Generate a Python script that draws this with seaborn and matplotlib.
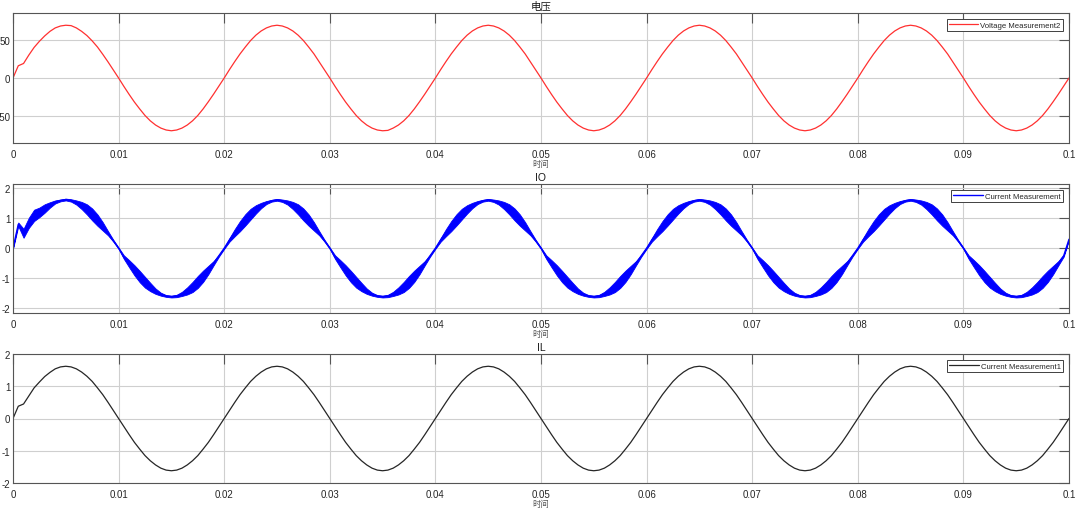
import numpy as np
import matplotlib
matplotlib.use("Agg")
import matplotlib.pyplot as plt
import seaborn as sns

# sample times, 0 .. 0.1 s, step 0.0005 s
t = np.linspace(0, 0.1, 201)

# Voltage Measurement2
voltage = [
    0, 16, 19, 30, 40, 48, 55, 61, 65.5, 68, 69, 68.5, 65.5, 61, 55.5, 48.5, 40.5, 31, 21, 10.5,
    0, -11, -21.5, -31.5, -40.5, -49, -56, -61.5, -65.5, -68, -69, -68, -65.5, -61.5, -56, -49, -40.5, -31, -21, -10.5,
    0, 11, 21.5, 31.5, 40.5, 49, 56, 61.5, 65.5, 68, 69, 68, 65.5, 61.5, 56, 49, 40.5, 31.5, 21, 10.5,
    0, -11, -21.5, -31.5, -40.5, -49, -56, -61.5, -65.5, -68, -69, -68.5, -65.5, -61.5, -56, -49, -40.5, -31, -21, -10.5,
    0, 11, 21.5, 31.5, 40.5, 49, 56, 61.5, 65.5, 68, 69, 68, 65.5, 61.5, 56, 49, 40.5, 31.5, 21, 10.5,
    0, -11, -21.5, -31.5, -40.5, -49, -56, -61.5, -65.5, -68, -69, -68, -65.5, -61.5, -56, -49, -40.5, -31, -21, -10.5,
    0, 11, 21.5, 31.5, 40.5, 49, 56, 61.5, 65.5, 68, 69, 68, 65.5, 61.5, 56, 49, 40.5, 31.5, 21, 10.5,
    0, -11, -21.5, -31.5, -40.5, -49, -56, -61.5, -65.5, -68, -69, -68, -65.5, -61.5, -56, -49, -40.5, -31, -21, -10.5,
    0, 11, 21.5, 31.5, 40.5, 49, 56, 61.5, 65.5, 68, 69, 68, 65.5, 61.5, 56, 49, 40.5, 31.5, 21, 10.5,
    0, -11, -21.5, -31.5, -40.5, -49, -56, -61.5, -65.5, -68, -69, -68, -65.5, -61.5, -56, -49, -40.5, -31, -21, -10.5,
    0,
]

# Current Measurement (IO): centre of the rippled band
io_mid = [
    0, 0.8, 0.5, 0.85, 1.1, 1.2, 1.33, 1.45, 1.55, 1.6, 1.63, 1.6, 1.53, 1.43, 1.3, 1.13, 0.94, 0.73, 0.5, 0.25,
    0, -0.3, -0.52, -0.74, -0.95, -1.14, -1.3, -1.44, -1.54, -1.6, -1.62, -1.6, -1.53, -1.43, -1.3, -1.13, -0.94, -0.73, -0.5, -0.25,
    0, 0.28, 0.52, 0.74, 0.95, 1.14, 1.3, 1.43, 1.53, 1.59, 1.62, 1.59, 1.53, 1.43, 1.3, 1.13, 0.94, 0.73, 0.5, 0.25,
    0, -0.3, -0.52, -0.74, -0.95, -1.14, -1.3, -1.44, -1.54, -1.6, -1.62, -1.6, -1.53, -1.43, -1.3, -1.13, -0.94, -0.73, -0.5, -0.25,
    0, 0.28, 0.52, 0.74, 0.95, 1.14, 1.3, 1.43, 1.53, 1.59, 1.62, 1.59, 1.53, 1.43, 1.3, 1.13, 0.94, 0.73, 0.5, 0.25,
    0, -0.3, -0.52, -0.74, -0.95, -1.14, -1.3, -1.44, -1.54, -1.6, -1.62, -1.6, -1.53, -1.43, -1.3, -1.13, -0.94, -0.73, -0.5, -0.25,
    0, 0.28, 0.52, 0.74, 0.95, 1.14, 1.3, 1.43, 1.53, 1.59, 1.62, 1.59, 1.53, 1.43, 1.3, 1.13, 0.94, 0.73, 0.5, 0.25,
    0, -0.3, -0.52, -0.74, -0.95, -1.14, -1.3, -1.44, -1.54, -1.6, -1.62, -1.6, -1.53, -1.43, -1.3, -1.13, -0.94, -0.73, -0.5, -0.25,
    0, 0.28, 0.52, 0.74, 0.95, 1.14, 1.3, 1.43, 1.53, 1.59, 1.62, 1.59, 1.53, 1.43, 1.3, 1.13, 0.94, 0.73, 0.5, 0.25,
    0, -0.3, -0.52, -0.74, -0.95, -1.14, -1.3, -1.44, -1.54, -1.6, -1.62, -1.6, -1.53, -1.43, -1.3, -1.13, -0.94, -0.73, -0.5, -0.25,
    0.3,
]

# half width of the high-frequency ripple on IO
io_ripple = [
    0.02, 0.06, 0.15, 0.17, 0.19, 0.16, 0.14, 0.09, 0.05, 0.03, 0.03, 0.04, 0.07, 0.12, 0.17, 0.2, 0.19, 0.14, 0.07, 0.03,
    0.02, 0.06, 0.12, 0.17, 0.19, 0.18, 0.14, 0.09, 0.05, 0.03, 0.03, 0.04, 0.07, 0.12, 0.17, 0.2, 0.19, 0.14, 0.07, 0.03,
    0.02, 0.06, 0.12, 0.17, 0.19, 0.18, 0.14, 0.09, 0.05, 0.03, 0.03, 0.04, 0.07, 0.12, 0.17, 0.2, 0.19, 0.14, 0.07, 0.03,
    0.02, 0.06, 0.12, 0.17, 0.19, 0.18, 0.14, 0.09, 0.05, 0.03, 0.03, 0.04, 0.07, 0.12, 0.17, 0.2, 0.19, 0.14, 0.07, 0.03,
    0.02, 0.06, 0.12, 0.17, 0.19, 0.18, 0.14, 0.09, 0.05, 0.03, 0.03, 0.04, 0.07, 0.12, 0.17, 0.2, 0.19, 0.14, 0.07, 0.03,
    0.02, 0.06, 0.12, 0.17, 0.19, 0.18, 0.14, 0.09, 0.05, 0.03, 0.03, 0.04, 0.07, 0.12, 0.17, 0.2, 0.19, 0.14, 0.07, 0.03,
    0.02, 0.06, 0.12, 0.17, 0.19, 0.18, 0.14, 0.09, 0.05, 0.03, 0.03, 0.04, 0.07, 0.12, 0.17, 0.2, 0.19, 0.14, 0.07, 0.03,
    0.02, 0.06, 0.12, 0.17, 0.19, 0.18, 0.14, 0.09, 0.05, 0.03, 0.03, 0.04, 0.07, 0.12, 0.17, 0.2, 0.19, 0.14, 0.07, 0.03,
    0.02, 0.06, 0.12, 0.17, 0.19, 0.18, 0.14, 0.09, 0.05, 0.03, 0.03, 0.04, 0.07, 0.12, 0.17, 0.2, 0.19, 0.14, 0.07, 0.03,
    0.02, 0.06, 0.12, 0.17, 0.19, 0.18, 0.14, 0.09, 0.05, 0.03, 0.03, 0.04, 0.07, 0.12, 0.17, 0.2, 0.19, 0.14, 0.07, 0.03,
    0.02,
]

# Current Measurement1 (IL)
il = [
    0, 0.38, 0.45, 0.7, 0.95, 1.13, 1.3, 1.43, 1.54, 1.6, 1.62, 1.6, 1.54, 1.44, 1.31, 1.15, 0.95, 0.74, 0.5, 0.25,
    0, -0.25, -0.5, -0.74, -0.95, -1.15, -1.31, -1.44, -1.54, -1.6, -1.62, -1.6, -1.54, -1.44, -1.31, -1.15, -0.95, -0.74, -0.5, -0.25,
    0, 0.25, 0.5, 0.74, 0.95, 1.15, 1.31, 1.44, 1.54, 1.6, 1.62, 1.6, 1.54, 1.44, 1.31, 1.15, 0.95, 0.74, 0.5, 0.25,
    0, -0.25, -0.5, -0.74, -0.95, -1.15, -1.31, -1.44, -1.54, -1.6, -1.62, -1.6, -1.54, -1.44, -1.31, -1.15, -0.95, -0.74, -0.5, -0.25,
    0, 0.25, 0.5, 0.74, 0.95, 1.15, 1.31, 1.44, 1.54, 1.6, 1.62, 1.6, 1.54, 1.44, 1.31, 1.15, 0.95, 0.74, 0.5, 0.25,
    0, -0.25, -0.5, -0.74, -0.95, -1.15, -1.31, -1.44, -1.54, -1.6, -1.62, -1.6, -1.54, -1.44, -1.31, -1.15, -0.95, -0.74, -0.5, -0.25,
    0, 0.25, 0.5, 0.74, 0.95, 1.15, 1.31, 1.44, 1.54, 1.6, 1.62, 1.6, 1.54, 1.44, 1.31, 1.15, 0.95, 0.74, 0.5, 0.25,
    0, -0.25, -0.5, -0.74, -0.95, -1.15, -1.31, -1.44, -1.54, -1.6, -1.62, -1.6, -1.54, -1.44, -1.31, -1.15, -0.95, -0.74, -0.5, -0.25,
    0, 0.25, 0.5, 0.74, 0.95, 1.15, 1.31, 1.44, 1.54, 1.6, 1.62, 1.6, 1.54, 1.44, 1.31, 1.15, 0.95, 0.74, 0.5, 0.25,
    0, -0.25, -0.5, -0.74, -0.95, -1.15, -1.31, -1.44, -1.54, -1.6, -1.62, -1.6, -1.54, -1.44, -1.31, -1.15, -0.95, -0.74, -0.5, -0.25,
    0,
]

x_ticks = [0, 0.01, 0.02, 0.03, 0.04, 0.05, 0.06, 0.07, 0.08, 0.09, 0.1]
x_labels = ["0", "0.01", "0.02", "0.03", "0.04", "0.05", "0.06", "0.07", "0.08", "0.09", "0.1"]
titles = ["电压", "IO", "IL"]
legend_names = ["Voltage Measurement2", "Current Measurement", "Current Measurement1"]
x_label = "时间"

sns.set_theme(style="white")
plt.rcParams["font.family"] = ["Liberation Sans", "Noto Sans CJK SC", "DejaVu Sans"]
plt.rcParams["axes.unicode_minus"] = False

fig = plt.figure(figsize=(10.8, 5.1), dpi=100)
left, width = 13 / 1080, 1056 / 1080
ax_top = fig.add_axes([left, 1 - 144 / 510, width, 130 / 510])
ax_mid = fig.add_axes([left, 1 - 314 / 510, width, 129 / 510])
ax_bot = fig.add_axes([left, 1 - 484 / 510, width, 129 / 510])

# ===============================
# panels
# ===============================
sns.lineplot(x=t, y=voltage, ax=ax_top, color="#ff3030", lw=0.9, label=legend_names[0])

lower = np.array(io_mid) - np.array(io_ripple)
upper = np.array(io_mid) + np.array(io_ripple)
ax_mid.fill_between(t, lower, upper, color="#0000ff", lw=0.6, edgecolor="#0000ff")
sns.lineplot(x=t, y=io_mid, ax=ax_mid, color="#0000ff", lw=1.0, label=legend_names[1])

sns.lineplot(x=t, y=il, ax=ax_bot, color="#262626", lw=0.9, label=legend_names[2])

ax_top.set_ylim(-85, 85)
ax_top.set_yticks([-50, 0, 50])
ax_mid.set_ylim(-2.17, 2.15)
ax_mid.set_yticks([-2, -1, 0, 1, 2])
ax_bot.set_ylim(-2, 2)
ax_bot.set_yticks([-2, -1, 0, 1, 2])

for ax, title in zip([ax_top, ax_mid, ax_bot], titles):
    ax.set_xlim(0, 0.1)
    ax.set_xticks(x_ticks)
    ax.set_xticklabels(x_labels)
    ax.grid(True, color="#cfcfcf", lw=0.8)
    ax.tick_params(direction="in", length=7, width=0.8, top=True, right=True,
                   color="#555555", labelsize=7, labelcolor="#262626", pad=4)
    ax.tick_params(axis="y", pad=2)
    for s in ax.spines.values():
        s.set_color("#555555")
        s.set_linewidth(0.8)
    ax.set_title(title, fontsize=7.5, color="#1a1a1a", pad=3)
    ax.set_xlabel(x_label, fontsize=6, color="#555555", labelpad=1)
    ax.set_ylabel("")
    leg = ax.legend(loc="upper right", fontsize=5.6, frameon=True, fancybox=False,
                    edgecolor="#404040", handlelength=3.8, handletextpad=0.3,
                    borderpad=0.25, borderaxespad=0.8, framealpha=1)
    leg.get_frame().set_linewidth(0.7)

fig.savefig("out.png", dpi=100)
